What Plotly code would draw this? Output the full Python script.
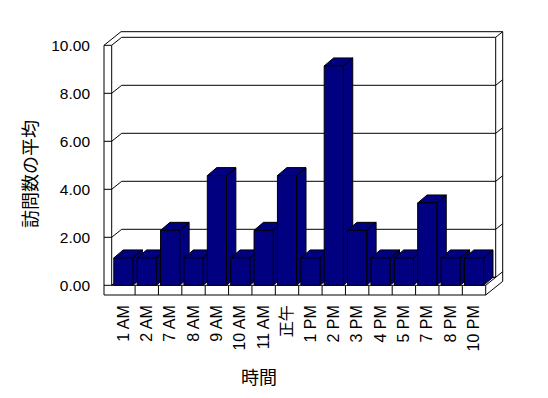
import plotly.graph_objects as go

# ---- data ----
categories = ["1 AM", "2 AM", "7 AM", "8 AM", "9 AM", "10 AM", "11 AM", "正午",
              "1 PM", "2 PM", "3 PM", "4 PM", "5 PM", "7 PM", "8 PM", "10 PM"]
avg_visits = [1.14, 1.14, 2.29, 1.14, 4.57, 1.14, 2.29, 4.57,
              1.14, 9.14, 2.29, 1.14, 1.14, 3.43, 1.14, 1.14]
y_ticks = [0, 2, 4, 6, 8, 10]
x_title = "時間"
y_title = "訪問数の平均"

# ---- geometry ----
PAGE_OFF = 8            # default body margin of the html page
W, H = 548 - PAGE_OFF, 398 - PAGE_OFF
PX_X = 23.375   # px per category
PX_Y = 24.0     # px per value unit
FRONT_LEFT_PX = 111.7 - PAGE_OFF
FRONT_BOTTOM_PX = 285.3 - PAGE_OFF
dom_l, dom_r = 96 - PAGE_OFF, 506 - PAGE_OFF
dom_t, dom_b = 26 - PAGE_OFF, 300 - PAGE_OFF
ML, MR, MT, MB = dom_l, W - dom_r, dom_t, H - dom_b
xr = [(dom_l - FRONT_LEFT_PX) / PX_X - 0.5, (dom_r - FRONT_LEFT_PX) / PX_X - 0.5]
yr = [(FRONT_BOTTOM_PX - dom_b) / PX_Y, (FRONT_BOTTOM_PX - dom_t) / PX_Y]

n = len(categories)
X0, X1 = -0.5, n - 0.5
Y0, Y1 = 0, 10
DX, DY = 10 / PX_X, 8 / PX_Y          # depth of plot box
WL, FL = 7.7 / PX_X, 9.7 / PX_Y       # wall / floor thickness
TB = 0.7                               # back wall thickness (fraction of depth)
BDX, BDY = 9.4 / PX_X, 8 / PX_Y        # bar depth
HW = 0.41                              # half bar width

NAVY = "#000080"
FONT = "Liberation Sans, Arial, Noto Sans CJK JP, sans-serif"
CJK = "Noto Sans CJK JP, sans-serif"

fx, fy = [], []
def seg(*pts):
    for p in pts:
        fx.append(p[0]); fy.append(p[1])
    fx.append(None); fy.append(None)

ox, oy = (1 + TB) * DX, (1 + TB) * DY
seg((X0 - WL, Y1), (X0 - WL, Y0 - FL), (X1, Y0 - FL), (X1, Y0))
seg((X0, Y1), (X0, Y0), (X1, Y0))
for k in range(n - 1):
    seg((k + 0.5, Y0), (k + 0.5, Y0 - FL))
seg((X1, Y0), (X1 + DX, Y0 + DY))
seg((X1, Y0 - FL), (X1 + ox, Y0 - FL + oy))
seg((X0, Y0), (X0 + DX, Y0 + DY), (X1 + DX, Y0 + DY))
for v in y_ticks:
    seg((X0 - WL, v), (X0, v), (X0 + DX, v + DY), (X1 + DX, v + DY), (X1 + ox, v + oy))
seg((X0 - WL, Y1), (X0 - WL + ox, Y1 + oy), (X1 + ox, Y1 + oy), (X1 + ox, Y0 - FL + oy))
seg((X1 + DX, Y1 + DY), (X1 + DX, Y0 + DY))

fig = go.Figure()
fig.add_trace(go.Scatter(x=fx, y=fy, mode="lines", line=dict(color="black", width=1),
                         hoverinfo="skip", showlegend=False))

# top and side faces of each bar, left to right
for i, h in enumerate(avg_visits):
    tx = [i - HW, i + HW, i + HW + BDX, i - HW + BDX, i - HW, None,
          i + HW, i + HW, i + HW + BDX, i + HW + BDX, i + HW]
    ty = [h, h, h + BDY, h + BDY, h, None,
          0, h, h + BDY, BDY, 0]
    fig.add_trace(go.Scatter(x=tx, y=ty, mode="lines", fill="toself", fillcolor=NAVY,
                             line=dict(color="black", width=1), hoverinfo="skip",
                             showlegend=False))

# front faces (drawn on an overlaid axis so they sit above the sides)
fig.add_trace(go.Bar(x=list(range(n)), y=avg_visits, width=2 * HW, xaxis="x2", yaxis="y2",
                     marker=dict(color=NAVY, line=dict(color="black", width=1)),
                     showlegend=False))

fig.update_layout(
    width=W, height=H, margin=dict(l=ML, r=MR, t=MT, b=MB),
    paper_bgcolor="white", plot_bgcolor="rgba(0,0,0,0)",
    showlegend=False,
    font=dict(family=FONT, size=15, color="black"),
    xaxis=dict(range=xr, tickmode="array", tickvals=list(range(n)), ticktext=categories,
               tickangle=-90, showgrid=False, zeroline=False, showline=False, ticks="",
               ticklabelstandoff=1, tickfont=dict(family=FONT, size=16, color="black")),
    yaxis=dict(range=yr, tickmode="array", tickvals=y_ticks, tickformat=".2f",
               showgrid=False, zeroline=False, showline=False, ticks="",
               ticklabelstandoff=5, tickfont=dict(family=FONT, size=15.5, color="black")),
    xaxis2=dict(range=xr, overlaying="x", visible=False),
    yaxis2=dict(range=yr, overlaying="y", visible=False),
    annotations=[
        dict(text=y_title, xref="paper", yref="paper",
             x=(29 - PAGE_OFF - dom_l) / (dom_r - dom_l),
             y=(dom_b - (174 - PAGE_OFF)) / (dom_b - dom_t),
             xanchor="center", yanchor="middle", textangle=-90, showarrow=False,
             font=dict(family=CJK, size=18, color="black")),
        dict(text=x_title, xref="paper", yref="paper",
             x=(259 - PAGE_OFF - dom_l) / (dom_r - dom_l),
             y=(dom_b - (376 - PAGE_OFF)) / (dom_b - dom_t),
             xanchor="center", yanchor="middle", showarrow=False,
             font=dict(family=CJK, size=18, color="black")),
    ],
)

fig.write_html("out.html")
